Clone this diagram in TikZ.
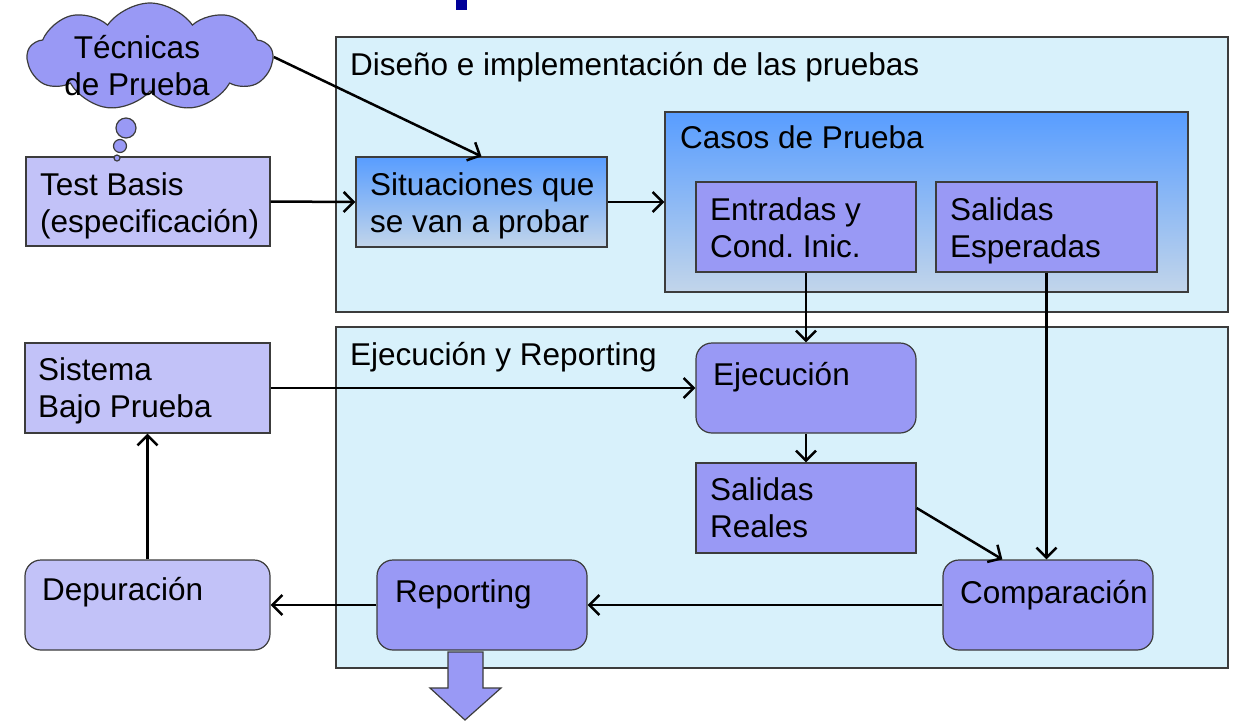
\documentclass[tikz,border=0pt]{standalone}
\usepackage{fontspec}
\setmainfont{Liberation Sans}
\usepackage{tikz}
\usetikzlibrary{arrows.meta}
\usetikzlibrary{shapes.symbols}
\frenchspacing
\definecolor{panelfill}{RGB}{216,241,251}
\definecolor{lavender}{RGB}{153,153,245}
\definecolor{lightlav}{RGB}{194,194,248}
\definecolor{gradtop}{RGB}{88,157,255}
\definecolor{gradbot}{RGB}{194,213,234}
\definecolor{edge}{RGB}{60,60,60}
\definecolor{titleblue}{RGB}{0,0,153}
\tikzset{
  panel/.style={draw=edge,line width=1.2pt,fill=panelfill,rectangle,inner sep=0pt},
  boxdark/.style={draw=edge,line width=1.2pt,fill=lavender,rectangle,inner sep=0pt},
  boxlight/.style={draw=edge,line width=1.2pt,fill=lightlav,rectangle,inner sep=0pt},
  roundbox/.style={rounded corners=16pt},
  gradbox/.style={draw=edge,line width=1.2pt,top color=gradtop,bottom color=gradbot,rectangle,inner sep=0pt},
  txt/.style={inner sep=0pt,anchor=base west,align=left,font=\fontsize{31.5}{37}\selectfont},
  conn/.style={line width=2.5pt,-{Straight Barb[length=10pt,width=20pt]}}
}
\begin{document}
\begin{tikzpicture}[x=1pt,y=-1pt]
    \useasboundingbox (0,0) rectangle (1238,726);
    \fill[titleblue] (456,0) rectangle (467,10);
    % panels
    \node[panel,minimum width=892pt,minimum height=275pt] (diseno) at (782,174.5) {};
    \node[panel,minimum width=892pt,minimum height=341pt] (ejecrep) at (782,497.5) {};
    \node[txt] (tDiseno) at (350,75) {Diseño e implementación de las pruebas};
    \node[txt] (tEjecrep) at (350,365) {Ejecución y Reporting};
    % design boxes
    \node[boxlight,minimum width=244pt,minimum height=89pt] (basis) at (148,201.5) {};
    \node[gradbox,minimum width=251pt,minimum height=90pt] (situ) at (481.5,202) {};
    \node[gradbox,minimum width=523pt,minimum height=180pt] (casos) at (926.5,202) {};
    \node[boxdark,minimum width=220pt,minimum height=90pt] (entradas) at (806,227) {};
    \node[boxdark,minimum width=221pt,minimum height=90pt] (salesp) at (1046.5,227) {};
    \node[txt] (tBasis) at (40,232) {Test Basis\\(especificación)};
    \node[txt] (tSitu) at (370,232) {Situaciones que\\se van a probar};
    \node[txt] (tCasos) at (680,148) {Casos de Prueba};
    \node[txt] (tEntradas) at (710,257) {Entradas y\\Cond. Inic.};
    \node[txt] (tSalesp) at (950,257) {Salidas\\Esperadas};
    % cloud and thought bubbles
    \node[cloud,cloud puffs=9,cloud puff arc=110,aspect=2.3,draw=edge,line width=1.2pt,fill=lavender,
          minimum width=245pt,minimum height=108pt,inner sep=0pt] (cloud) at (150,57) {};
    \draw[draw=edge,line width=1.2pt,fill=lavender] (126,128) circle [radius=10];
    \draw[draw=edge,line width=1.2pt,fill=lavender] (120,146) circle [radius=6.5];
    \draw[draw=edge,line width=1.2pt,fill=lavender] (117,158) circle [radius=3];
    \node[txt,anchor=base,align=center] (tCloud) at (137,95) {Técnicas\\de Prueba};
    % execution boxes
    \node[boxlight,minimum width=245pt,minimum height=90pt] (sistema) at (147.5,388) {};
    \node[boxdark,roundbox,minimum width=220pt,minimum height=90pt] (ejecucion) at (806,388) {};
    \node[boxdark,minimum width=220pt,minimum height=90pt] (salreal) at (806,508) {};
    \node[boxlight,roundbox,minimum width=245pt,minimum height=90pt] (depura) at (147.5,605) {};
    \node[boxdark,roundbox,minimum width=210pt,minimum height=90pt] (report) at (482,605) {};
    \node[boxdark,roundbox,minimum width=210pt,minimum height=90pt] (compara) at (1048,605) {};
    \node[txt] (tSistema) at (38,417) {Sistema\\Bajo Prueba};
    \node[txt] (tEjecucion) at (713,385) {Ejecución};
    \node[txt] (tSalreal) at (710,537) {Salidas\\Reales};
    \node[txt] (tDepura) at (42,600) {Depuración};
    \node[txt] (tReport) at (395,602) {Reporting};
    \node[txt] (tCompara) at (960,603) {Comparación};
    % output arrow
    \draw[draw=edge,line width=1.2pt,fill=lavender] (448,652) -- (483,652) -- (483,688) -- (501,688)
        -- (465,720) -- (430,688) -- (448,688) -- cycle;
    % connectors
    \draw[conn] (cloud.east) -- (situ.north);
    \draw[conn] (basis.east) -- (situ.west);
    \draw[conn] (situ.east) -- (casos.west);
    \draw[conn] (entradas.south) -- (ejecucion.north);
    \draw[conn] (salesp.south) -- (salesp.south |- compara.north);
    \draw[conn] (sistema.east) -- (ejecucion.west);
    \draw[conn] (ejecucion.south) -- (salreal.north);
    \draw[conn] (salreal.east) -- (compara.135);
    \draw[conn] (compara.west) -- (report.east);
    \draw[conn] (report.west) -- (depura.east);
    \draw[conn] (depura.north) -- (sistema.south);
\end{tikzpicture}
\end{document}
